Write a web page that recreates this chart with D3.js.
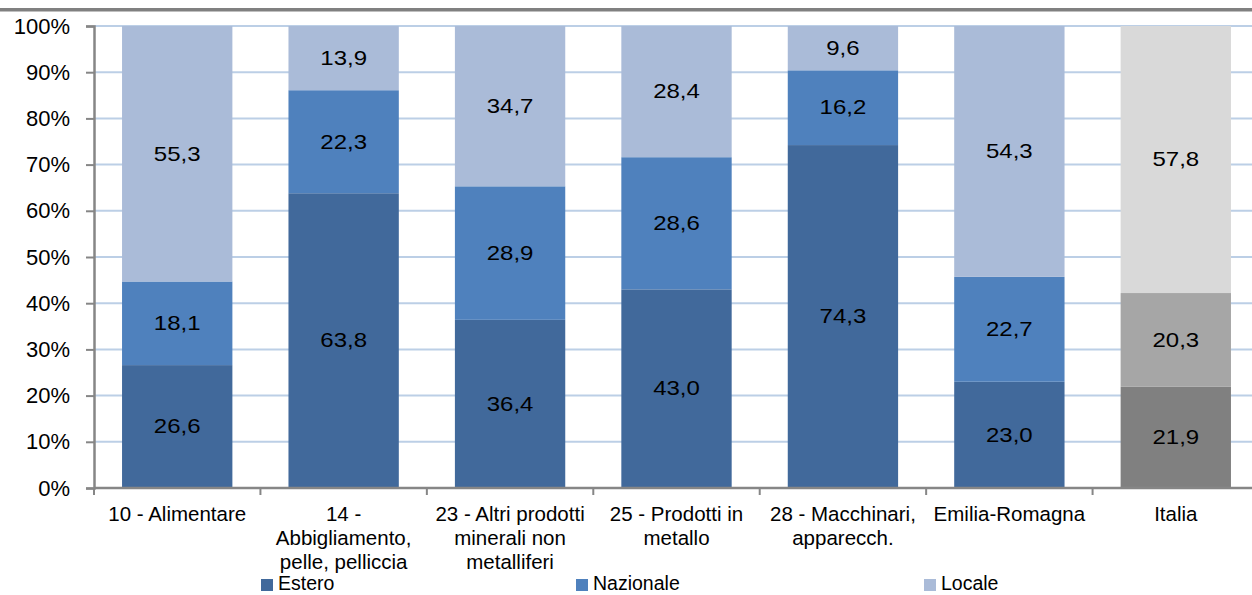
<!DOCTYPE html>
<html><head><meta charset="utf-8">
<script src="https://cdn.jsdelivr.net/npm/d3@7/dist/d3.min.js"></script>
<style>
body{margin:0;background:#fff;}
svg{display:block;font-family:"Liberation Sans",Arial,sans-serif;}
</style></head>
<body><svg id="c" width="1252" height="595"></svg>
<script>
const categories = [
  ["10 - Alimentare"],
  ["14 -", "Abbigliamento,", "pelle, pelliccia"],
  ["23 - Altri prodotti", "minerali non", "metalliferi"],
  ["25 - Prodotti in", "metallo"],
  ["28 - Macchinari,", "apparecch."],
  ["Emilia-Romagna"],
  ["Italia"]
];
const seriesNames = ["Estero", "Nazionale", "Locale"];
const estero    = [26.6, 63.8, 36.4, 43.0, 74.3, 23.0, 21.9];
const nazionale = [18.1, 22.3, 28.9, 28.6, 16.2, 22.7, 20.3];
const locale    = [55.3, 13.9, 34.7, 28.4, 9.6, 54.3, 57.8];
const yTicks = [0,10,20,30,40,50,60,70,80,90,100];

const colorsBlue = ["#41699b", "#4f81bd", "#aabbd8"];
const colorsGray = ["#808080", "#a6a6a6", "#d9d9d9"];

const svg = d3.select("#c");
const W = 1252, H = 595;
const x0 = 94, x1 = 94 + 7*166.43, yTop = 26, yBot = 488;

svg.append("rect").attr("x",0).attr("y",8).attr("width",W).attr("height",3.5).attr("fill","#808080");

const x = d3.scaleBand().domain(d3.range(categories.length)).range([x0, x1]).paddingInner(0.337).paddingOuter(0.1685);
const y = d3.scaleLinear().domain([0,100]).range([yBot, yTop]);

// gridlines
svg.append("g").selectAll("line").data(yTicks.filter(d=>d>0)).join("line")
  .attr("x1", x0).attr("x2", W).attr("y1", d=>y(d)).attr("y2", d=>y(d))
  .attr("stroke","#bccfe6").attr("stroke-width",2);

const vals = [estero, nazionale, locale];
const rows = categories.map((c,i)=>{
  const tot = estero[i]+nazionale[i]+locale[i];
  const o = {i};
  seriesNames.forEach((s,k)=>{ o[s] = vals[k][i]/tot*100; o[s+"_raw"] = vals[k][i]; });
  return o;
});
const stack = d3.stack().keys(seriesNames)(rows);

const g = svg.append("g");
stack.forEach((layer,k)=>{
  layer.forEach(d=>{
    const i = d.data.i;
    const col = i === 6 ? colorsGray[k] : colorsBlue[k];
    g.append("rect").attr("x", x(i)).attr("width", x.bandwidth())
      .attr("y", y(d[1])).attr("height", y(d[0]) - y(d[1])).attr("fill", col);
    const cx = x(i)+x.bandwidth()/2, cy = (y(d[0])+y(d[1]))/2;
    g.append("text").attr("transform", `translate(${cx},${cy}) scale(1.2,1)`)
      .attr("text-anchor","middle").attr("dominant-baseline","central")
      .attr("font-size", 20).attr("fill","#000")
      .text(d3.format(".1f")(d.data[seriesNames[k]+"_raw"]).replace(".", ","));
  });
});

// y axis
const ya = svg.append("g").attr("transform", `translate(${x0},0)`)
  .call(d3.axisLeft(y).tickValues(yTicks).tickFormat(d=>d+"%").tickSize(8).tickPadding(16));
ya.select(".domain").attr("stroke","#868686").attr("stroke-width",2.5);
ya.selectAll(".tick line").attr("stroke","#868686").attr("stroke-width",2);
ya.selectAll(".tick text").attr("font-size",22).attr("fill","#000").attr("font-family","Liberation Sans, Arial, sans-serif");

// x axis
const xa = svg.append("g").attr("transform", `translate(0,${yBot})`);
xa.append("line").attr("x1",x0).attr("x2",W).attr("y1",0).attr("y2",0).attr("stroke","#868686").attr("stroke-width",2.5);
const step = x.step();
xa.selectAll("line.t").data(d3.range(categories.length+1)).join("line").attr("class","t")
  .attr("x1", i=>x0+i*step).attr("x2", i=>x0+i*step).attr("y1",0).attr("y2",7)
  .attr("stroke","#868686").attr("stroke-width",2);
categories.forEach((lines,i)=>{
  const t = xa.append("text").attr("x", x(i)+x.bandwidth()/2).attr("y", 33)
    .attr("text-anchor","middle").attr("font-size",20.5).attr("fill","#000");
  lines.forEach((l,j)=>t.append("tspan").attr("x", x(i)+x.bandwidth()/2).attr("dy", j===0?0:24).text(l));
});

// legend
const legX = [261, 576, 924];
seriesNames.forEach((s,k)=>{
  svg.append("rect").attr("x",legX[k]).attr("y",579).attr("width",12).attr("height",12).attr("fill",colorsBlue[k]);
  svg.append("text").attr("x",legX[k]+17).attr("y",590).attr("font-size",19.5).attr("fill","#000").text(s);
});
</script></body></html>
